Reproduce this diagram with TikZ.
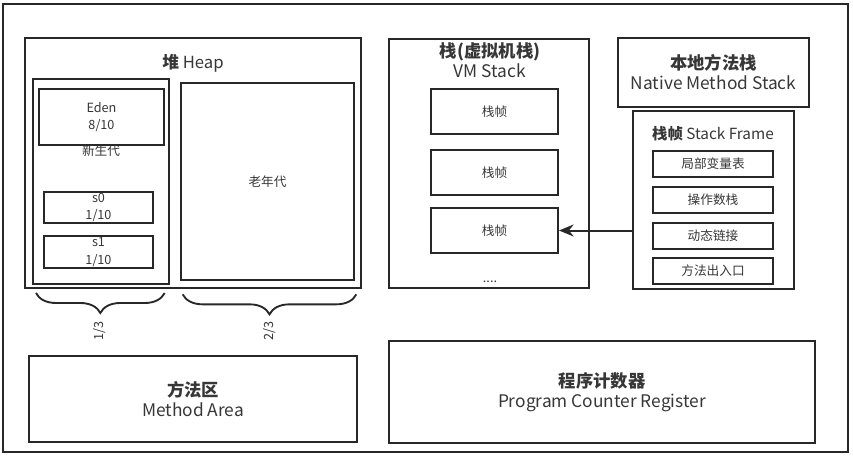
\documentclass[tikz,border=0pt]{standalone}
\usepackage{fontspec}
\setmainfont{Noto Sans CJK SC}
\usepackage{tikz}
\usetikzlibrary{arrows.meta, positioning, decorations.pathreplacing}
\definecolor{lineGray}{RGB}{40, 40, 40}
\definecolor{textGray}{RGB}{55, 55, 55}

\begin{document}
\begin{tikzpicture}[
  x=0.75pt, y=-0.75pt,
  box/.style 2 args={rectangle, draw=lineGray, line width=1.5pt,
             inner sep=0pt, minimum width=#1*0.75pt,
             minimum height=#2*0.75pt, align=center, text=textGray},
  ttl/.style={align=center, text=textGray, inner sep=0pt,
              font=\fontsize{13}{15}\selectfont},
  sml/.style={font=\fontsize{9.5}{13}\selectfont},
  brc/.style={decorate, decoration={brace, mirror, amplitude=15pt},
              draw=lineGray, line width=1.4pt},
  >={Stealth[length=11pt, width=9pt]}
]
  \useasboundingbox (0,0) rectangle (853,456);

  %% Outer frame
  \node[box={845}{448}] (jvm) at (425.5,228) {};

  %% Heap
  \node[box={336}{250}] (heap) at (193,163) {};
  \node[ttl, font=\fontsize{12.5}{15}\selectfont] (heaplbl) at (193,63)
    {\textbf{堆} Heap};
  \node[box={136}{205}] (young) at (101,181.5) {};
  \node[box={125}{56}, sml] (eden) at (101.5,117) {Eden\\8/10};
  \node[ttl, sml] (younglbl) at (101,151) {新生代};
  \node[box={109}{31}, sml] (s0) at (98.5,207.5) {s0\\1/10};
  \node[box={109}{32}, sml] (s1) at (98.5,252) {s1\\1/10};
  \node[box={173}{197}, sml] (old) at (267.5,181.5) {老年代};

  %% Ratios
  \draw[brc] ([xshift=3pt, yshift=-6pt]young.south west)
    -- ([xshift=-4pt, yshift=-6pt]young.south east);
  \draw[brc] ([xshift=2pt, yshift=-10pt]old.south west)
    -- ([xshift=1pt, yshift=-10pt]old.south east);
  \node[ttl, sml, rotate=90] (r13) at (100,331) {1/3};
  \node[ttl, sml, rotate=90] (r23) at (270,331) {2/3};

  %% Method area
  \node[box={328}{86}, font=\fontsize{13}{15}\selectfont] (method) at (193,399)
    {\textbf{方法区}\\Method Area};

  %% VM stack
  \node[box={200}{249}] (vmstack) at (489,163.5) {};
  \node[ttl] (vmlbl) at (490,60) {\textbf{栈(虚拟机栈)}\\VM Stack};
  \foreach \fr/\y in {f1/111.5, f2/172.5, f3/230.5}
    \node[box={127}{45}, sml] (\fr) at (494.5,\y) {栈帧};
  \node[ttl, sml] (dots) at (490,282) {....};

  %% Native method stack
  \node[box={191}{69}, font=\fontsize{13}{15}\selectfont] (native) at (713.5,72.5)
    {\textbf{本地方法栈}\\Native Method Stack};

  %% Stack frame detail
  \node[box={161}{178}] (sframe) at (713.5,200) {};
  \node[ttl, font=\fontsize{11.5}{13}\selectfont] (sflbl) at (713,134)
    {\textbf{栈帧} Stack Frame};
  \foreach \it/\y/\txt in {lv/164/局部变量表, os/200/操作数栈,
                           dl/236/动态链接, ra/271/方法出入口}
    \node[box={120}{26}, sml] (\it) at (713,\y) {\txt};

  \draw[->, lineGray, line width=1.5pt] (f3.east -| sframe.west) -- (f3.east);

  %% Program counter
  \node[box={426}{102}, font=\fontsize{13}{15}\selectfont] (pc) at (602,392)
    {\textbf{程序计数器}\\Program Counter Register};

\end{tikzpicture}
\end{document}
